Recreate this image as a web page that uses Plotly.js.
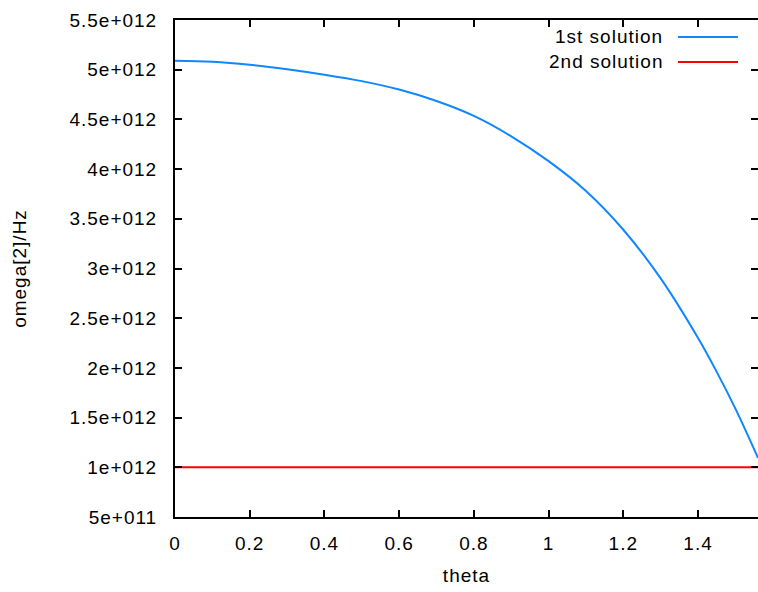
<!DOCTYPE html>
<html>
<head>
<meta charset="utf-8">
<script src="https://cdn.plot.ly/plotly-3.0.1.min.js"></script>
<style>
  html, body { margin: 0; padding: 0; background: #fff; }
  #chart { width: 758px; height: 592px; }
  #chart text { letter-spacing: 1px; }
</style>
</head>
<body>
<div id="chart"></div>
<script>
// theta (rad)
const theta = [0, 0.1, 0.2, 0.3, 0.4, 0.5, 0.6, 0.7, 0.8, 0.9, 1.0, 1.1, 1.2, 1.3, 1.4, 1.45, 1.5, 1.5605];
// 1st solution omega^2 (Hz)
const sol1 = [5.09e12, 5.08e12, 5.05e12, 5.005e12, 4.95e12, 4.885e12, 4.80e12, 4.685e12, 4.535e12, 4.33e12, 4.08e12,
              3.78e12, 3.39e12, 2.90e12, 2.30e12, 1.96e12, 1.59e12, 1.095e12];
// 2nd solution omega^2 (Hz), constant
const sol2Theta = [0, 1.5605];
const sol2 = [1e12, 1e12];

const seriesNames = ['1st solution', '2nd solution'];
const seriesColors = ['#0f87ff', '#ff0000'];

const yTickVals = [5e11, 1e12, 1.5e12, 2e12, 2.5e12, 3e12, 3.5e12, 4e12, 4.5e12, 5e12, 5.5e12];
const yTickText = ['5e+011', '1e+012', '1.5e+012', '2e+012', '2.5e+012', '3e+012', '3.5e+012', '4e+012', '4.5e+012', '5e+012', '5.5e+012'];
const xTickVals = [0, 0.2, 0.4, 0.6, 0.8, 1, 1.2, 1.4];
const xTickText = ['0', '0.2', '0.4', '0.6', '0.8', '1', '1.2', '1.4'];

const font = {family: '"Liberation Sans", Arial, sans-serif', size: 19, color: '#000'};

const traces = [
  {x: theta, y: sol1, type: 'scatter', mode: 'lines', name: seriesNames[0],
   line: {color: seriesColors[0], width: 2, shape: 'spline', smoothing: 1}},
  {x: sol2Theta, y: sol2, type: 'scatter', mode: 'lines', name: seriesNames[1],
   line: {color: seriesColors[1], width: 2}}
];

// custom gnuplot-style legend: text on left, sample line on right
const legY = [0.9658, 0.9155];
const annotations = seriesNames.map((n, i) => ({
  xref: 'paper', yref: 'paper', x: 0.8305, y: legY[i], xanchor: 'right', yanchor: 'middle',
  text: n, showarrow: false, font: font
}));
const shapes = seriesNames.map((n, i) => ({
  type: 'line', xref: 'paper', yref: 'paper', x0: 0.8628, x1: 0.9657, y0: legY[i], y1: legY[i],
  line: {color: seriesColors[i], width: 2}
}));

const axisCommon = {
  showgrid: false, zeroline: false, showline: true, linecolor: '#000', linewidth: 2,
  mirror: 'ticks', ticks: 'inside', ticklen: 7, tickwidth: 2, tickcolor: '#000',
  tickfont: font
};

const layout = {
  width: 758, height: 592,
  margin: {l: 175, r: 0, t: 20, b: 75},
  paper_bgcolor: '#fff', plot_bgcolor: '#fff',
  showlegend: false,
  font: font,
  xaxis: Object.assign({}, axisCommon, {
    range: [0, 1.5605], tickmode: 'array', tickvals: xTickVals, ticktext: xTickText,
    ticklabelstandoff: 8,
    title: {text: 'theta', font: font, standoff: 16}
  }),
  yaxis: Object.assign({}, axisCommon, {
    range: [5e11, 5.5e12], tickmode: 'array', tickvals: yTickVals, ticktext: yTickText,
    ticklabelstandoff: 12,
    title: {text: 'omega[2]/Hz', font: font, standoff: 46}
  }),
  annotations: annotations,
  shapes: shapes
};

Plotly.newPlot('chart', traces, layout, {displayModeBar: false, staticPlot: true});
</script>
</body>
</html>
